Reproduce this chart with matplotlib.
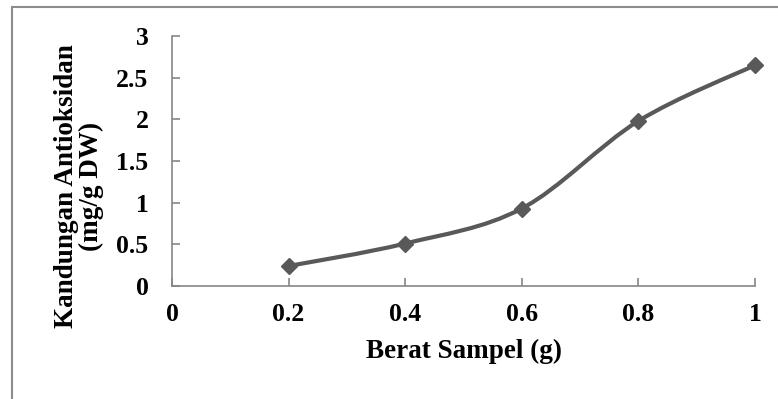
import numpy as np
import matplotlib
matplotlib.use("Agg")
import matplotlib.pyplot as plt
from matplotlib.path import Path
from matplotlib.patches import PathPatch, Rectangle

berat = [0.2, 0.4, 0.6, 0.8, 1.0]
kandungan = [0.24, 0.51, 0.93, 1.98, 2.65]
xticks = [0, 0.2, 0.4, 0.6, 0.8, 1]
xtick_labels = ["0", "0.2", "0.4", "0.6", "0.8", "1"]
yticks = [0, 0.5, 1, 1.5, 2, 2.5, 3]
ytick_labels = ["0", "0.5", "1", "1.5", "2", "2.5", "3"]

plt.rcParams['font.family'] = ['Liberation Serif', 'DejaVu Serif']
plt.rcParams['font.weight'] = 'bold'

line_col = '#595959'
axis_col = '#868686'


def smooth_path(x, y):
    # Excel-like smoothed line: cubic Bezier through the points
    pts = np.column_stack([x, y])
    n = len(pts)
    verts = [pts[0]]
    codes = [Path.MOVETO]
    for i in range(n - 1):
        p0 = pts[i - 1] if i > 0 else pts[i]
        p1 = pts[i]
        p2 = pts[i + 1]
        p3 = pts[i + 2] if i + 2 < n else pts[i + 1]
        c1 = p1 + (p2 - p0) / 6.0
        c2 = p2 - (p3 - p1) / 6.0
        verts += [c1, c2, p2]
        codes += [Path.CURVE4] * 3
    return Path(verts, codes)


fig = plt.figure(figsize=(7.78, 3.99), dpi=100)
ax = fig.add_axes([172 / 778, 113 / 399, 583 / 778, 250 / 399])

patch = PathPatch(smooth_path(berat, kandungan), facecolor='none',
                  edgecolor=line_col, linewidth=3, capstyle='round',
                  zorder=2, clip_on=False)
ax.add_patch(patch)
ax.plot(berat, kandungan, linestyle='none', marker='D', markersize=8.5,
        color=line_col, zorder=3, clip_on=False)

ax.set_xlim(0, 1)
ax.set_ylim(0, 3)
ax.set_xticks(xticks)
ax.set_xticklabels(xtick_labels)
ax.set_yticks(yticks)
ax.set_yticklabels(ytick_labels)

for s in ['top', 'right']:
    ax.spines[s].set_visible(False)
for s in ['left', 'bottom']:
    ax.spines[s].set_color(axis_col)
    ax.spines[s].set_linewidth(1.2)

ax.tick_params(axis='both', direction='in', length=5.5, width=1.2,
               color=axis_col, labelsize=18.5)
ax.tick_params(axis='x', pad=12)
ax.tick_params(axis='y', pad=17)
for lab in ax.get_xticklabels() + ax.get_yticklabels():
    lab.set_fontweight('bold')

ax.set_xlabel("Berat Sampel (g)", fontsize=19.5, fontweight='bold')
ax.xaxis.set_label_coords(0.5, -0.21)
ax.xaxis.label.set_va('top')

ax.set_ylabel("Kandungan Antioksidan\n(mg/g DW)", fontsize=19.5,
              fontweight='bold', linespacing=1.0)
ax.yaxis.set_label_coords(-0.16, 0.40)
ax.yaxis.label.set_va('center')
ax.yaxis.label.set_ha('center')

# outer chart border
fig.patches.append(Rectangle((11.5 / 778, -0.1), 1.2, 0.1 + 392.5 / 399,
                             transform=fig.transFigure, fill=False,
                             edgecolor='#8c8c8c', linewidth=1.5))

fig.savefig("out.png", dpi=100)
